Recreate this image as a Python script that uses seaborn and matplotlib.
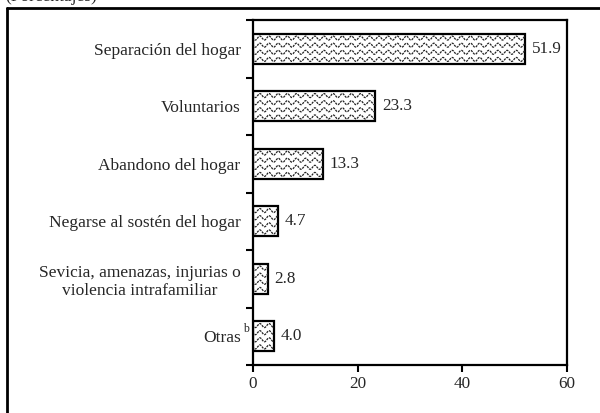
import numpy as np
import pandas as pd
import matplotlib
matplotlib.use("Agg")
import matplotlib.pyplot as plt
from matplotlib.lines import Line2D
import seaborn as sns

# datos
categorias = ["Separación del hogar", "Voluntarios", "Abandono del hogar",
              "Negarse al sostén del hogar",
              "Sevicia, amenazas, injurias o\nviolencia intrafamiliar", "Otras"]
valores = [51.9, 23.3, 13.3, 4.7, 2.8, 4.0]
xticks = [0, 20, 40, 60]

sns.set_theme(style="white")
plt.rcParams["font.family"] = ["Liberation Serif", "DejaVu Serif"]

df = pd.DataFrame({"motivo": categorias, "valor": valores})

fig = plt.figure(figsize=(6, 4.13), dpi=100)
ax = fig.add_axes([253 / 600, 1 - 365 / 413, 314 / 600, 345 / 413])

sns.barplot(data=df, x="valor", y="motivo", orient="h", color="white",
            edgecolor="black", linewidth=1.6, width=0.52, saturation=1, ax=ax)

# textura ondulada dentro de cada barra
for p in ax.patches:
    x0, y0, w, h = p.get_x(), p.get_y(), p.get_width(), p.get_height()
    xs = np.linspace(x0 - 1, x0 + w + 1, 400)
    for k in range(4):
        yc = y0 + h * (k + 0.6) / 4.2
        ys = yc + 0.035 * np.sin(2 * np.pi * xs / 1.75)
        ln = ax.plot(xs, ys, color="#222222", lw=0.9, ls=(0, (1.8, 0.8)),
                     zorder=p.get_zorder() + 0.1)[0]
        ln.set_clip_path(p)

ax.bar_label(ax.containers[0], fmt="%.1f", padding=5, fontsize=12.3)

ax.set_xlim(0, 60)
ax.set_ylim(5.5, -0.5)
ax.set_xticks(xticks)
ax.set_xlabel("")
ax.set_ylabel("")
ax.tick_params(axis="x", direction="out", length=5, width=1.5, labelsize=12.3,
               pad=3, bottom=True, color="black")
ax.tick_params(axis="y", which="major", length=0, labelsize=12.5, pad=9)
ax.set_yticks(np.arange(-0.5, 6, 1), minor=True)
ax.tick_params(axis="y", which="minor", direction="out", length=5, width=1.5,
               left=True, color="black")
for lab in ax.get_yticklabels():
    lab.set_multialignment("center")
for s in ax.spines.values():
    s.set_color("black")
    s.set_linewidth(1.6)

# superindice "b" junto a Otras
ax.annotate("b", xy=(0, 5), xytext=(-3, 5), textcoords="offset points",
            ha="right", va="center", fontsize=8.5)

# marco exterior y titulo (cortado arriba, como en el original)
fig.add_artist(Line2D([7 / 600, 7 / 600], [0, 1 - 8 / 413], color="black", lw=2))
fig.add_artist(Line2D([7 / 600, 1], [1 - 8 / 413, 1 - 8 / 413], color="black", lw=2))
fig.text(5 / 600, 1 - 1 / 413, "(Porcentajes)", fontsize=12.5, va="baseline")

fig.savefig("out.png", dpi=100)
